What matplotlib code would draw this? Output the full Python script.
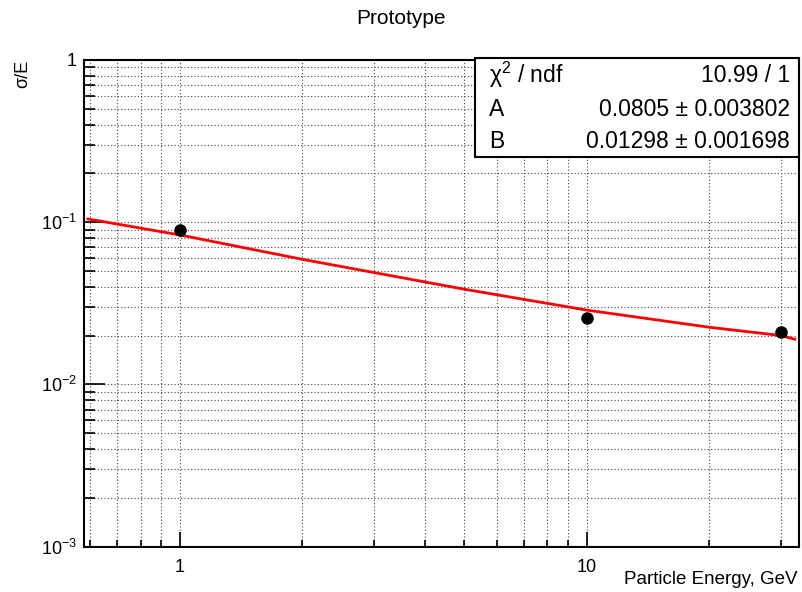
import matplotlib
matplotlib.use("Agg")
import matplotlib.pyplot as plt
from matplotlib.ticker import FuncFormatter, LogLocator, NullFormatter
from matplotlib.patches import Rectangle
import math

# ---- data ----
energy = [1, 10, 30]
sigma_over_e = [0.0895, 0.0258, 0.0210]

fit_x = [0.594, 1, 2, 3, 5, 10, 20, 30, 32.4]
fit_y = [0.1047, 0.0834, 0.0590, 0.0489, 0.0386, 0.0287, 0.0225, 0.0200, 0.0190]

stats_names = ["χ$^{2}$ / ndf", "A", "B"]
stats_values = ["10.99 / 1", "0.0805 ± 0.003802", "0.01298 ± 0.001698"]

title = "Prototype"
xlabel = "Particle Energy, GeV"
ylabel = "σ/E"

plt.rcParams['font.family'] = ['Liberation Sans', 'DejaVu Sans']
plt.rcParams['mathtext.fontset'] = 'custom'
plt.rcParams['mathtext.rm'] = 'Liberation Sans'
plt.rcParams['mathtext.it'] = 'Liberation Sans:italic'
plt.rcParams['mathtext.bf'] = 'Liberation Sans:bold'

W, H = 802, 592
fig = plt.figure(figsize=(W / 100, H / 100), dpi=100)
ax = fig.add_axes([84 / W, 1 - 546.6 / H, (799 - 84) / W, (546.6 - 60) / H])

ax.set_xscale('log')
ax.set_yscale('log')
ax.set_xlim(0.581, 33.2)
ax.set_ylim(1e-3, 1)

# grid on all ticks (ROOT style dotted)
ax.grid(True, which='both', color='#444444', linestyle=(0, (1, 2)), linewidth=0.8)
ax.set_axisbelow(True)

ax.plot(fit_x, fit_y, color='#ff0000', linewidth=2.0, zorder=3)
ax.plot(energy, sigma_over_e, 'o', color='black', markersize=8, zorder=4)

for s in ax.spines.values():
    s.set_linewidth(1.5)

def fmt(v, pos):
    e = int(round(math.log10(v)))
    if e == 0:
        return "1"
    if e == 1:
        return "10"
    return r"$10^{%d}$" % e

ax.xaxis.set_major_locator(LogLocator(base=10, numticks=10))
ax.xaxis.set_minor_locator(LogLocator(base=10, subs=range(2, 10), numticks=20))
ax.yaxis.set_major_locator(LogLocator(base=10, numticks=10))
ax.yaxis.set_minor_locator(LogLocator(base=10, subs=range(2, 10), numticks=20))
ax.xaxis.set_major_formatter(FuncFormatter(fmt))
ax.yaxis.set_major_formatter(FuncFormatter(fmt))
ax.xaxis.set_minor_formatter(NullFormatter())
ax.yaxis.set_minor_formatter(NullFormatter())

ax.tick_params(axis='x', which='major', direction='in', length=10.8, width=1.2, labelsize=13, pad=9, top=False)
ax.tick_params(axis='x', which='minor', direction='in', length=5.4, width=1.2, top=False)
ax.tick_params(axis='y', which='major', direction='in', length=15, width=1.2, labelsize=13, pad=5, right=False)
ax.tick_params(axis='y', which='minor', direction='in', length=7.7, width=1.2, right=False)

fig.text(401 / W, 1 - 18 / H, title, ha='center', va='center', fontsize=15)
fig.text(797 / W, 1 - 580 / H, xlabel, ha='right', va='center', fontsize=13.5)
fig.text(23 / W, 1 - 60 / H, ylabel, ha='center', va='top', rotation=90, fontsize=13)

# stats box
bx0, by0, bx1, by1 = 475, 58, 799, 157
rect = Rectangle((bx0 / W, 1 - by1 / H), (bx1 - bx0) / W, (by1 - by0) / H,
                 transform=fig.transFigure, facecolor='white', edgecolor='black',
                 linewidth=1.5, zorder=10)
fig.patches.append(rect)
rows_y = [75, 109, 141]
for name, val, yy in zip(stats_names, stats_values, rows_y):
    fig.text(489 / W, 1 - yy / H, name, ha='left', va='center', fontsize=16.5, zorder=11)
    fig.text(790 / W, 1 - yy / H, val, ha='right', va='center', fontsize=16.5, zorder=11)

fig.savefig("out.png", dpi=100)
